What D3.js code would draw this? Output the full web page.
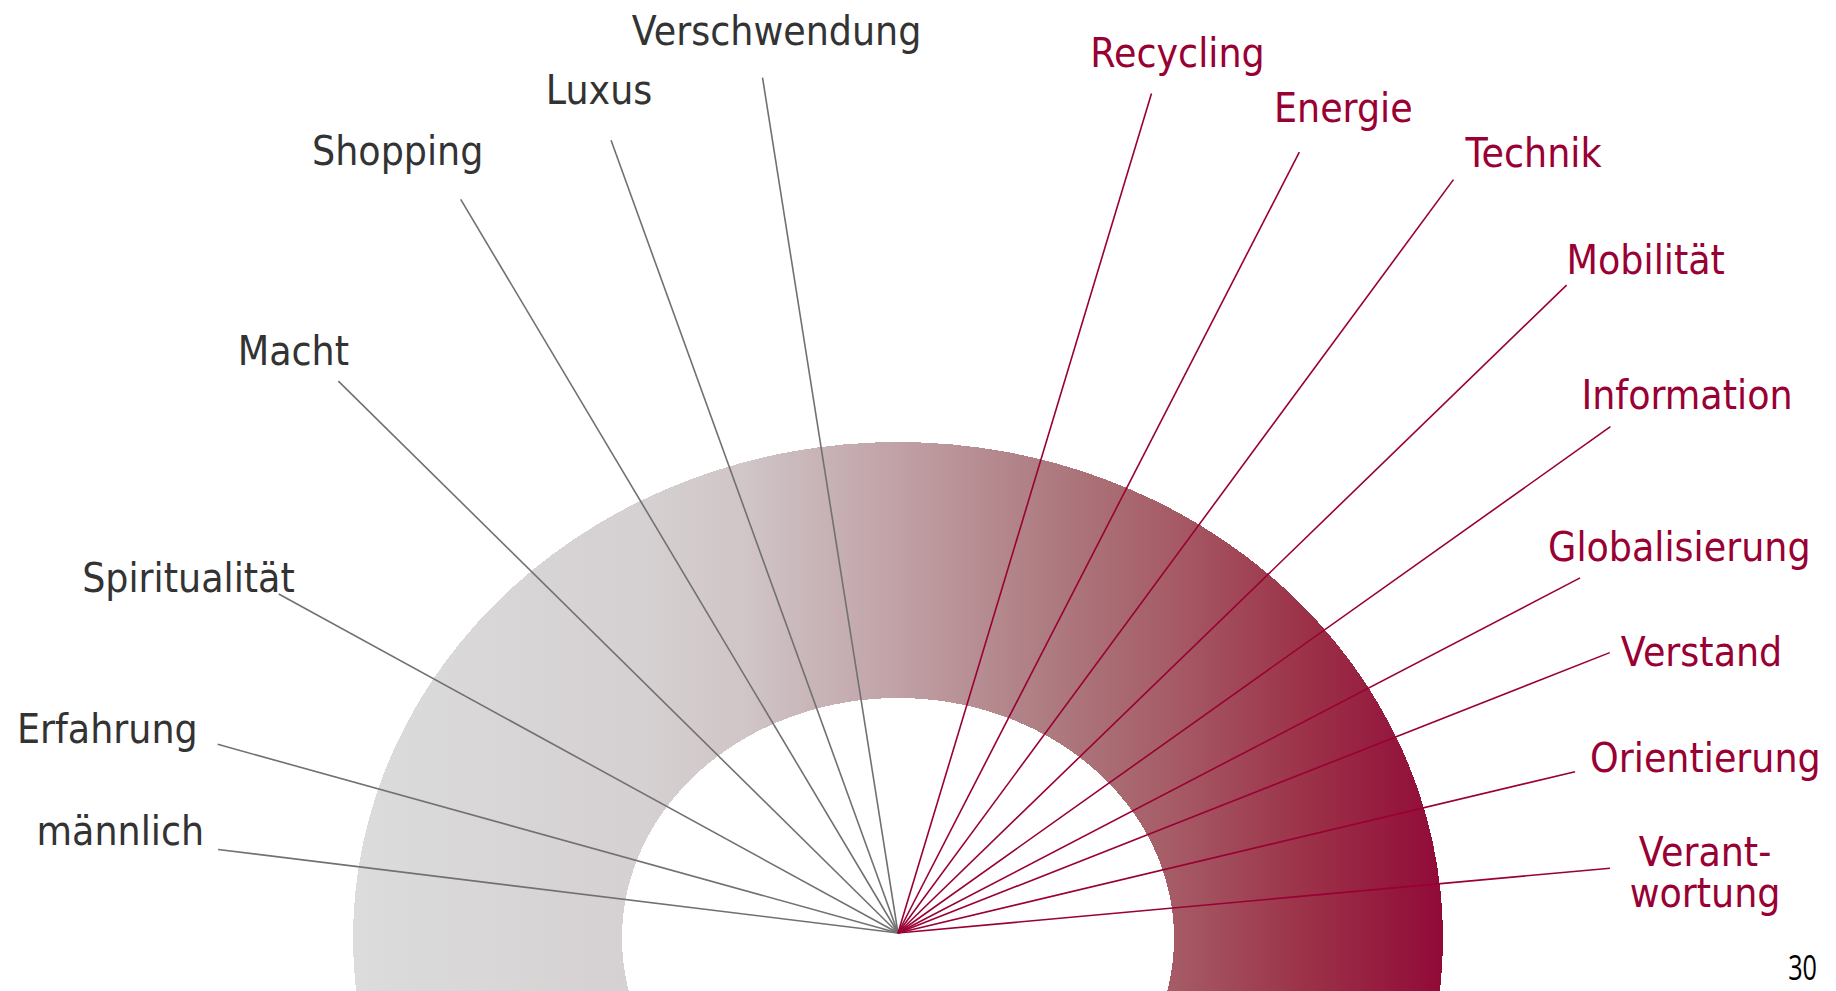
<!doctype html>
<html>
<head>
<meta charset="UTF-8">
<script src="https://d3js.org/d3.v7.min.js"></script>
<style type="text/css">
body { margin: 0; background: #fff; }
.label { font-family: "DejaVu Sans", Verdana, sans-serif; font-size: 41px; }
.grey { fill: #333333; }
.red { fill: #990033; }
.page { font-family: "Open Sans", sans-serif; font-size: 35px; fill: #000; }
</style>
</head>
<body>
<script>
// left fan (grey words): label, angle of the spoke (deg, 0 = right, counter clockwise), spoke length
var leftLabels  = ["männlich", "Erfahrung", "Spiritualität", "Macht", "Shopping", "Luxus", "Verschwendung"];
var leftAngles  = [173.0, 164.5, 151.3, 135.4, 120.8, 109.9, 99.0];
var leftLengths = [685, 706, 706, 786, 854, 843, 866];

// right fan (red words)
var rightLabels  = ["Recycling", "Energie", "Technik", "Mobilität", "Information", "Globalisierung", "Verstand", "Orientierung", "Verant-\nwortung"];
var rightAngles  = [73.2, 62.8, 53.6, 44.1, 35.4, 27.5, 21.5, 13.4, 5.2];
var rightLengths = [877, 878, 936, 931, 874, 769, 765, 696, 715];

var pageNumber = "30";

// where the words sit relative to the spoke tip (layout only)
var leftAnchor  = ["end", "end", "end", "middle", "middle", "middle", "middle"];
var leftDx      = [-14, -20, 16, -45, -63, -12, 14];
var leftDy      = [-5, -1, -2, -16, -34, -36, -33];
var rightAnchor = ["middle", "middle", "start", "start", "start", "start", "start", "start", "middle"];
var rightDx     = [26, 44, 12, 0, -29, -32, 11, 15, 95];
var rightDy     = [-26, -30, -13, -11, -18, -17, 13, 0, -2];

var w = 1836;
var h = 991;
var hub = [898, 933];
var squeeze = 0.89;   // narrow the font a bit, like the original Tahoma

var svg = d3.select("body").append("svg")
    .attr("width", w)
    .attr("height", h);

// gradient of the ring, grey on the left to dark red on the right
var grad = svg.append("defs").append("linearGradient")
    .attr("id", "ringGrad")
    .attr("gradientUnits", "userSpaceOnUse")
    .attr("x1", 353).attr("x2", 1443)
    .attr("y1", 0).attr("y2", 0);

var stops = [[0, "#dcdcdc"], [0.27, "#d5d0d1"], [0.36, "#d0c5c7"], [0.5, "#c0a1a6"],
             [0.64, "#ad7b80"], [0.75, "#a65c66"], [0.87, "#9c3349"], [1, "#910a38"]];
grad.selectAll("stop")
    .data(stops)
    .enter().append("stop")
    .attr("offset", function(d) { return d[0]; })
    .attr("stop-color", function(d) { return d[1]; });

// ring = outer ellipse minus inner ellipse
var ring = { cx: 898, cy: 938, rxOut: 545, ryOut: 496, rxIn: 276, ryIn: 240 };
function ellipse(cx, cy, rx, ry) {
    return "M" + (cx - rx) + "," + cy +
        "a" + rx + "," + ry + " 0 1,0 " + (2 * rx) + ",0" +
        "a" + rx + "," + ry + " 0 1,0 " + (-2 * rx) + ",0Z";
}
svg.append("path")
    .attr("d", ellipse(ring.cx, ring.cy, ring.rxOut, ring.ryOut) + ellipse(ring.cx, ring.cy, ring.rxIn, ring.ryIn))
    .attr("fill", "url(#ringGrad)")
    .attr("fill-rule", "evenodd")
    .attr("shape-rendering", "crispEdges");

// scales
var angleScale = d3.scaleLinear().domain([0, 180]).range([0, Math.PI]);
var rScale = d3.scaleLinear().domain([0, 1000]).range([0, 1000]);

function tip(angle, len) {
    var a = angleScale(angle);
    return [hub[0] + rScale(len) * Math.cos(a), hub[1] - rScale(len) * Math.sin(a)];
}

function buildSpokes(labels, angles, lengths, anchors, dxs, dys, cls, color) {
    var data = labels.map(function(l, i) {
        return { label: l, end: tip(angles[i], lengths[i]), anchor: anchors[i], dx: dxs[i], dy: dys[i] };
    });

    var g = svg.append("g").attr("class", cls);

    g.selectAll("line")
        .data(data)
        .enter().append("line")
        .attr("x1", hub[0])
        .attr("y1", hub[1])
        .attr("x2", function(d) { return d.end[0]; })
        .attr("y2", function(d) { return d.end[1]; })
        .attr("stroke", color)
        .attr("stroke-width", 1.6);

    var txt = g.selectAll("text")
        .data(data)
        .enter().append("text")
        .attr("class", "label " + cls)
        .attr("text-anchor", function(d) { return d.anchor; })
        .attr("transform", function(d) {
            return "translate(" + (d.end[0] + d.dx) + "," + (d.end[1] + d.dy) + ") scale(" + squeeze + ",1)";
        });

    txt.selectAll("tspan")
        .data(function(d) { return d.label.split("\n"); })
        .enter().append("tspan")
        .attr("x", 0)
        .attr("dy", function(d, i) { return i === 0 ? 0 : 41; })
        .text(function(d) { return d; });
}

buildSpokes(leftLabels, leftAngles, leftLengths, leftAnchor, leftDx, leftDy, "grey", "#717171");
buildSpokes(rightLabels, rightAngles, rightLengths, rightAnchor, rightDx, rightDy, "red", "#990033");

// slide number
svg.append("text")
    .attr("class", "page")
    .attr("text-anchor", "end")
    .attr("transform", "translate(1817,980) scale(0.72,1)")
    .text(pageNumber);
</script>
</body>
</html>
